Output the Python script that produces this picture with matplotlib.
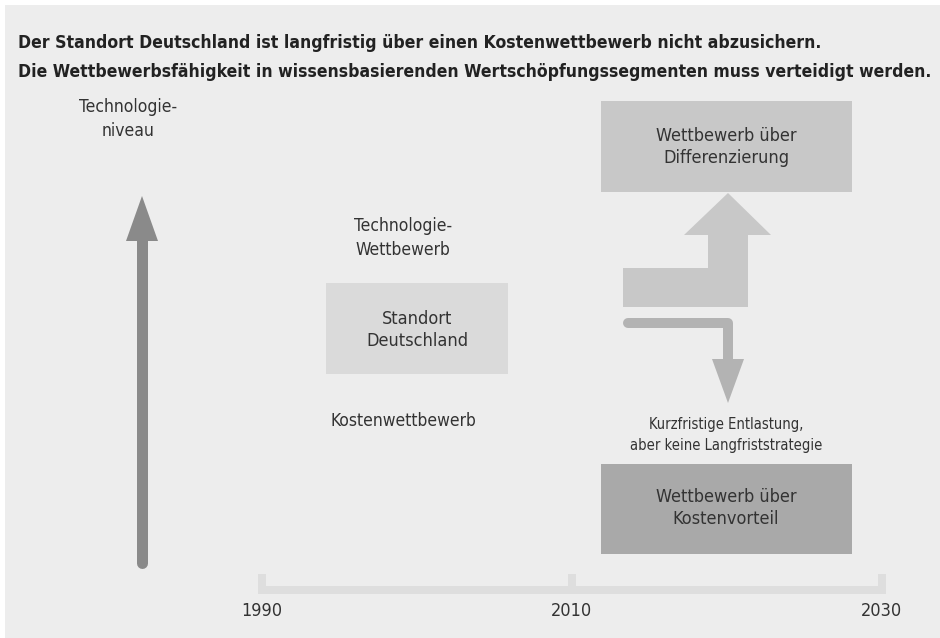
import matplotlib
matplotlib.use("Agg")
import matplotlib.pyplot as plt
import matplotlib.patches as mpatches
from matplotlib.lines import Line2D

plt.rcParams["font.family"] = ["DejaVu Sans"]
plt.rcParams["font.stretch"] = "condensed"

# --- content -------------------------------------------------------------
title_lines = [
    "Der Standort Deutschland ist langfristig über einen Kostenwettbewerb nicht abzusichern.",
    "Die Wettbewerbsfähigkeit in wissensbasierenden Wertschöpfungssegmenten muss verteidigt werden.",
]
years = [1990, 2010, 2030]
axis_label = "Technologie-\nniveau"
upper_label = "Technologie-\nWettbewerb"
center_label = "Standort\nDeutschland"
lower_label = "Kostenwettbewerb"
top_box_label = "Wettbewerb über\nDifferenzierung"
note_label = "Kurzfristige Entlastung,\naber keine Langfriststrategie"
bottom_box_label = "Wettbewerb über\nKostenvorteil"

BG = "#ededed"
TXT = "#333333"
W, H = 940, 638


def year_x(y):
    # timeline scale: 1990 -> 262 px, 2030 -> 882 px
    return 262 + (y - years[0]) * (882 - 262) / (years[-1] - years[0])


fig = plt.figure(figsize=(W / 100, H / 100), dpi=100, facecolor="white")
ax = fig.add_axes([0, 0, 1, 1])
ax.set_xlim(0, W)
ax.set_ylim(H, 0)
ax.axis("off")

ax.add_patch(mpatches.Rectangle((5, 5), W - 5, H - 5, color=BG, lw=0))

# title
for i, line in enumerate(title_lines):
    ax.text(18, 43 + i * 29, line, fontsize=12.65, fontweight="bold", color="#222222",
            va="center", ha="left")

# vertical axis arrow
lw_px = 11 * 0.72
ax.add_line(Line2D([141.5, 141.5], [563, 240], lw=lw_px, color="#8a8a8a",
                   solid_capstyle="round"))
ax.add_patch(mpatches.Polygon([(126, 241), (158, 241), (142, 196)], closed=True,
                              color="#8a8a8a", lw=0))
ax.text(128, 119, axis_label, fontsize=12.5, color=TXT, ha="center", va="center",
        linespacing=1.4)

# centre block
ax.add_patch(mpatches.Rectangle((326, 283), 182, 91, color="#dadada", lw=0))
ax.text(417, 330, center_label, fontsize=13, color=TXT, ha="center", va="center",
        linespacing=1.35)
ax.text(403, 238, upper_label, fontsize=12.5, color=TXT, ha="center", va="center",
        linespacing=1.4)
ax.text(403, 421, lower_label, fontsize=12.5, color=TXT, ha="center", va="center")

# right: differentiation box + step arrow
ax.add_patch(mpatches.Rectangle((601, 101), 251, 91, color="#c8c8c8", lw=0))
ax.text(726, 147, top_box_label, fontsize=13, color=TXT, ha="center", va="center",
        linespacing=1.35)
up_arrow = [(623, 268), (708, 268), (708, 235), (684, 235), (728, 193),
            (771, 235), (748, 235), (748, 307), (623, 307)]
ax.add_patch(mpatches.Polygon(up_arrow, closed=True, color="#c8c8c8", lw=0))

# down arrow to cost box
ax.add_line(Line2D([628, 728, 728], [323, 323, 362], lw=10 * 0.72, color="#b3b3b3",
                   solid_capstyle="round", solid_joinstyle="round"))
ax.add_patch(mpatches.Polygon([(712, 359), (744, 359), (728, 403)], closed=True,
                              color="#b3b3b3", lw=0))
ax.text(726, 435, note_label, fontsize=10.5, color=TXT, ha="center", va="center",
        linespacing=1.45)
ax.add_patch(mpatches.Rectangle((601, 464), 251, 90, color="#a9a9a9", lw=0))
ax.text(726, 508, bottom_box_label, fontsize=13, color=TXT, ha="center", va="center",
        linespacing=1.35)

# timeline bracket
BR = "#dedede"
x0, x1 = year_x(years[0]), year_x(years[-1])
ax.add_patch(mpatches.Rectangle((x0 - 4, 586), x1 - x0 + 8, 8, color=BR, lw=0))
for yr in years:
    xt = year_x(yr)
    ax.add_patch(mpatches.Rectangle((xt - 4, 574), 8, 20, color=BR, lw=0))
    ax.text(xt, 611, str(yr), fontsize=13, color=TXT, ha="center", va="center")

fig.savefig("out.png", dpi=100, facecolor=fig.get_facecolor())
